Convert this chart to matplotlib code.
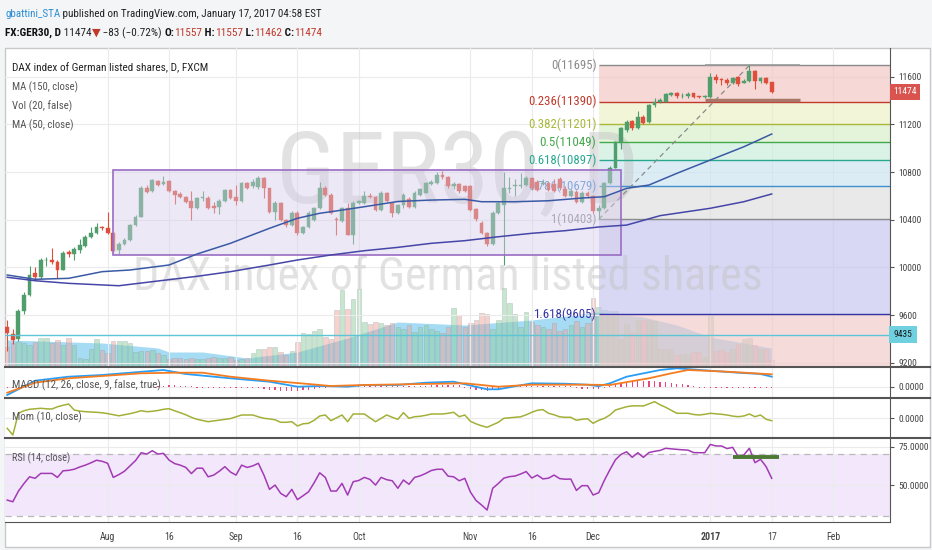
import numpy as np
import pandas as pd
import matplotlib
matplotlib.use('Agg')
from matplotlib import pyplot as plt
from matplotlib import font_manager
from matplotlib.patches import Rectangle
from matplotlib.lines import Line2D
import matplotlib.transforms as mtrans

# ---------------- data ----------------
opens = [9500, 9440, 9400, 9630, 9770, 9950, 9920, 10060, 10060, 10045,
         9980, 10130, 10110, 10150, 10180, 10255, 10290, 10340, 10330, 10290,
         10145, 10200, 10230, 10355, 10425, 10670, 10640, 10725, 10700, 10725,
         10640, 10615, 10590, 10560, 10500, 10580, 10585, 10515, 10510, 10560,
         10650, 10590, 10560, 10710, 10680, 10675, 10750, 10665, 10465, 10540,
         10400, 10355, 10460, 10290, 10340, 10400, 10500, 10670, 10610, 10410,
         10390, 10500, 10275, 10540, 10540, 10600, 10590, 10480, 10625, 10540,
         10460, 10525, 10575, 10510, 10610, 10625, 10700, 10710, 10775, 10760,
         10680, 10700, 10680, 10680, 10490, 10375, 10290, 10200, 10460, 10525,
         10660, 10680, 10680, 10690, 10750, 10720, 10700, 10710, 10700, 10740,
         10660, 10600, 10635, 10550, 10620, 10600, 10470, 10500, 10710, 10835,
         11055, 11155, 11230, 11170, 11265, 11220, 11365, 11390, 11390, 11450,
         11460, 11435, 11435, 11460, 11432, 11430, 11430, 11600, 11580, 11575,
         11545, 11600, 11550, 11560, 11650, 11560, 11590, 11557]
closes = [9450, 9390, 9630, 9770, 9940, 9920, 10060, 10065, 10045, 9980,
          10120, 10110, 10155, 10190, 10255, 10290, 10340, 10330, 10290, 10140,
          10200, 10230, 10355, 10425, 10670, 10635, 10730, 10690, 10720, 10640,
          10610, 10590, 10550, 10500, 10580, 10590, 10500, 10500, 10560, 10650,
          10585, 10560, 10710, 10670, 10720, 10750, 10665, 10465, 10540, 10400,
          10355, 10460, 10290, 10340, 10460, 10500, 10670, 10610, 10460, 10395,
          10500, 10275, 10540, 10555, 10600, 10590, 10480, 10625, 10555, 10460,
          10520, 10610, 10510, 10625, 10660, 10710, 10720, 10775, 10760, 10680,
          10700, 10640, 10640, 10485, 10405, 10290, 10200, 10460, 10540, 10670,
          10670, 10690, 10695, 10750, 10665, 10650, 10710, 10650, 10640, 10665,
          10600, 10640, 10550, 10620, 10600, 10470, 10500, 10710, 10835, 11055,
          11170, 11220, 11170, 11265, 11215, 11365, 11390, 11405, 11455, 11460,
          11435, 11440, 11455, 11430, 11430, 11435, 11600, 11570, 11570, 11545,
          11590, 11535, 11565, 11650, 11560, 11590, 11550, 11474]
highs = [9560, 9480, 9650, 9790, 10010, 10000, 10080, 10090, 10160, 10060,
         10135, 10150, 10170, 10240, 10270, 10340, 10370, 10350, 10465, 10300,
         10210, 10250, 10365, 10440, 10680, 10690, 10740, 10735, 10770, 10735,
         10650, 10630, 10600, 10640, 10590, 10640, 10600, 10550, 10570, 10660,
         10660, 10690, 10720, 10720, 10740, 10770, 10760, 10670, 10560, 10550,
         10410, 10470, 10470, 10350, 10470, 10510, 10720, 10680, 10620, 10420,
         10510, 10540, 10560, 10565, 10640, 10620, 10600, 10640, 10630, 10550,
         10530, 10620, 10590, 10640, 10670, 10720, 10730, 10800, 10810, 10770,
         10720, 10710, 10690, 10690, 10500, 10390, 10300, 10470, 10560, 10800,
         10760, 10740, 10790, 10770, 10760, 10730, 10740, 10720, 10740, 10760,
         10680, 10660, 10650, 10640, 10640, 10610, 10520, 10720, 10850, 11060,
         11180, 11240, 11240, 11310, 11280, 11370, 11420, 11420, 11465, 11470,
         11470, 11460, 11470, 11465, 11440, 11450, 11630, 11620, 11590, 11590,
         11600, 11610, 11580, 11695, 11660, 11600, 11600, 11557]
lows = [9300, 9360, 9380, 9610, 9760, 9900, 9900, 10010, 10030, 9910,
        9975, 10090, 10060, 10120, 10170, 10250, 10280, 10310, 10280, 10120,
        10110, 10190, 10220, 10345, 10420, 10620, 10630, 10680, 10690, 10630,
        10530, 10580, 10540, 10400, 10490, 10560, 10490, 10460, 10450, 10550,
        10575, 10520, 10550, 10660, 10670, 10660, 10580, 10460, 10400, 10390,
        10340, 10350, 10270, 10280, 10330, 10390, 10490, 10600, 10450, 10270,
        10380, 10270, 10200, 10530, 10530, 10580, 10470, 10475, 10550, 10420,
        10450, 10500, 10500, 10500, 10600, 10620, 10690, 10700, 10740, 10670,
        10660, 10620, 10630, 10470, 10390, 10280, 10180, 10190, 10450, 10020,
        10620, 10600, 10670, 10680, 10650, 10640, 10690, 10640, 10630, 10650,
        10590, 10590, 10540, 10540, 10580, 10460, 10403, 10490, 10700, 10830,
        10990, 11140, 11150, 11160, 11200, 11210, 11350, 11380, 11385, 11440,
        11425, 11420, 11420, 11420, 11420, 11420, 11425, 11550, 11530, 11530,
        11540, 11520, 11545, 11555, 11500, 11550, 11540, 11462]
volumes = [20, 24, 25, 24, 22, 25, 29, 29, 24, 27,
           22, 29, 22, 9, 8, 18, 28, 17, 14, 26,
           26, 26, 24, 15, 16, 16, 17, 14, 12, 8,
           9, 9, 8, 9, 8, 8, 9, 10, 9, 9,
           10, 7, 8, 9, 14, 18, 18, 20, 20, 15,
           12, 16, 25, 34, 33, 36, 38, 30, 28, 57,
           77, 58, 68, 78, 45, 43, 45, 44, 42, 44,
           40, 38, 42, 35, 40, 42, 38, 36, 34, 40,
           59, 52, 40, 44, 47, 54, 53, 38, 47, 79,
           64, 53, 40, 55, 45, 42, 40, 38, 44, 36,
           38, 42, 46, 40, 44, 69, 60, 57, 56, 56,
           28, 43, 35, 47, 47, 47, 46, 18, 18, 18,
           12, 13, 13, 15, 15, 10, 52, 16, 17, 15,
           18, 23, 28, 29, 22, 18, 18, 7]
rsi = [40.2, 39.1, 46, 51, 55.4, 54.4, 57.6, 57.6, 57.6, 55,
       59.3, 59.6, 60.3, 61.8, 63, 64.5, 66.2, 65.5, 64.2, 55,
       56.8, 59, 62.5, 66, 71.1, 70.2, 72.4, 70.2, 70.7, 66.3,
       64, 63, 61.5, 57.5, 61, 61, 55.4, 56.5, 59, 62,
       58.5, 56.5, 63, 61.5, 62.5, 64.2, 56.5, 47.2, 50, 44.6,
       42.4, 47.2, 40.5, 43, 45.6, 51.5, 58, 55, 46.1, 46.1,
       51.1, 43.5, 52.2, 53, 55, 53.7, 50, 55, 53.5, 52.8,
       47.9, 53.3, 50.5, 55, 56, 57.6, 59.5, 60.3, 60.3, 55.8,
       55.4, 52.8, 54.4, 45.5, 40, 37, 33.7, 47.9, 51, 54.5,
       55.5, 55.9, 57.2, 58.8, 54.6, 56.5, 54, 54.5, 56.5, 54.2,
       53.8, 53.9, 46.5, 49.6, 49.6, 43.5, 45, 53, 60, 66.5,
       70, 71.7, 68.1, 71.1, 68.1, 71.2, 72, 72.6, 74, 73.6,
       73.3, 73, 72.8, 71.2, 71.1, 71.1, 76.5, 75.5, 75.5, 73.8,
       74.6, 68.5, 69.6, 74, 64.6, 66.8, 62, 54.4]
mom = [-500, -835, 250, 380, 450, 475, 500, 475, 465, 575,
       650, 715, 415, 360, 330, 315, 300, 275, 235, 180,
       125, 175, 230, 300, 380, 330, 350, 390, 450, 480,
       375, 280, 175, 50, -50, -110, -170, -130, -85, -50,
       -15, 75, 165, 165, 165, 75, 0, -30, -75, -200,
       -200, -170, -385, -275, -250, -100, 115, 165, -120, 25,
       165, -170, 215, 215, 215, 25, -170, 0, 165, 50,
       -50, 280, 0, 80, 100, 150, 215, 215, 215, 250,
       300, 80, 165, -150, -275, -375, -450, -325, -200, 0,
       25, 50, 75, 175, 300, 400, 435, 250, 175, 75,
       50, 50, -100, -50, -25, -250, -100, 0, 165, 415,
       500, 580, 620, 625, 615, 725, 830, 675, 550, 400,
       250, 250, 250, 190, 165, 200, 250, 225, 200, 165,
       110, 80, 115, 215, 80, 165, -50, -120]
macd_hist = [-15, -15, -10, 5, 0, 0, 0, 0, 0, 0,
             0, 0, 0, 0, 0, 0, 0, 0, 0, 0,
             0, 0, 0, 0, 0, 0, 0, 10, 10, 15,
             15, 10, 10, 10, -10, -10, -10, -10, -10, -10,
             -10, -10, -10, -10, -10, -10, -20, -30, -35, -40,
             -40, -40, -40, -35, -30, -20, -10, -10, -5, -5,
             -5, 0, 0, 5, 5, 5, 5, 5, 5, 5,
             5, 5, 5, 5, 5, 5, 20, 20, 20, 20,
             15, 15, -10, -20, -30, -35, -40, -30, -20, 5,
             5, 5, 5, 5, 5, 5, 5, 5, 5, 5,
             5, 5, -15, -20, -20, -25, -20, -10, 20, 30,
             40, 50, 55, 60, 60, 60, 55, 50, 45, 40,
             30, 25, 20, 10, -10, -10, -10, -10, -10, -10,
             -10, -10, -10, -10, -10, -10, -10, -10]

# indicator lines read at a number of bars (bar index, value)
ma50_idx = [0, 5, 11, 17, 22, 29, 34, 40, 47, 52, 56, 58, 64, 70, 76, 82, 85, 91, 97, 103, 107, 111, 115, 120, 126, 132, 137]
ma50_val = [9936, 9900, 9908, 9964, 9978, 10020, 10112, 10202, 10328, 10412, 10454, 10467, 10509, 10553, 10565, 10571,
            10551, 10551, 10559, 10582, 10593, 10663, 10691, 10789, 10901, 11012, 11119]
ma150_idx = [0, 5, 11, 20, 26, 34, 40, 47, 52, 58, 64, 70, 76, 82, 88, 94, 100, 106, 111, 117, 126, 132, 137]
ma150_val = [9917, 9888, 9866, 9846, 9880, 9925, 9964, 10020, 10062, 10104, 10140, 10168, 10202, 10224, 10257, 10286,
             10308, 10339, 10355, 10434, 10496, 10551, 10616]
volma_idx = [0, 17, 27, 29, 35, 43, 52, 61, 70, 82, 94, 106, 114, 120, 126, 132, 137]
volma_val = [27, 24, 19, 15, 15, 9, 15, 29, 45, 42, 47, 55, 50, 42, 30, 24, 19]
macd_idx = [0, 5, 11, 17, 28, 32, 40, 47, 52, 56, 61, 64, 70, 75, 80, 86, 88, 94, 100, 104, 106, 108, 111, 117, 120, 126, 131, 135, 137]
macd_val = [-83, 60, 100, 117, 167, 127, 84, 50, 0, 7, 0, 17, 17, 40, 50, -26, -26, 34, 30, 20, 5, 34, 100, 167, 184, 160,
            140, 127, 100]
signal_idx = [0, 5, 11, 17, 24, 30, 35, 40, 47, 54, 58, 64, 74, 82, 88, 94, 104, 108, 115, 119, 122, 129, 137]
signal_val = [-60, 40, 84, 107, 134, 140, 140, 100, 60, 27, 7, 17, 27, 34, 0, 20, 20, 17, 84, 134, 167, 150, 124]

fib_levels = ['0', '0.236', '0.382', '0.5', '0.618', '0.786', '1', '1.618']
fib_prices = [11695, 11390, 11201, 11049, 10897, 10679, 10403, 9605]

price_ticks = [9200, 9600, 10000, 10400, 10800, 11200, 11600]
tick_dates = ['2016-08-01', '2016-08-16', '2016-09-01', '2016-09-16', '2016-10-04', '2016-11-01',
              '2016-11-16', '2016-12-01', '2017-01-02', '2017-01-17', '2017-02-01']
tick_labels = ['Aug', '16', 'Sep', '16', 'Oct', 'Nov', '16', 'Dec', '2017', '17', 'Feb']
holidays = ['2016-10-03', '2016-12-26']


# ---------------- fonts ----------------
def pick_narrow():
    flist = font_manager.fontManager.ttflist
    names = {f.name for f in flist}
    for cand in ['Liberation Sans Narrow', 'DejaVu Sans Condensed', 'Roboto Condensed',
                 'Noto Sans Condensed', 'Open Sans Condensed', 'Arial Narrow']:
        if cand in names:
            return cand, 'normal'
    for f in flist:
        if str(f.stretch) in ('condensed', 'semi-condensed', 'extra-condensed') and \
                f.name in ('Noto Sans', 'Open Sans', 'Roboto', 'DejaVu Sans', 'Lato', 'Inter'):
            return f.name, str(f.stretch)
    return 'Liberation Sans', 'normal'


NARROW, STRETCH = pick_narrow()
FAM = [NARROW, 'DejaVu Sans']
plt.rcParams['font.family'] = FAM
plt.rcParams['font.stretch'] = STRETCH

# ---------------- layout ----------------
W, H = 932, 550
fig = plt.figure(figsize=(W / 100, H / 100), dpi=100, facecolor='#f4f5f7')
renderer = fig.canvas.get_renderer()


def px_axes(x0, y0, x1, y1, **kw):
    return fig.add_axes([x0 / W, 1 - y1 / H, (x1 - x0) / W, (y1 - y0) / H], **kw)


def fit_width(t, target_px):
    w = t.get_window_extent(renderer).width
    t.set_fontsize(t.get_fontsize() * target_px / w)
    return t


# size that makes '11600' about 23 px wide, as on the price scale
_probe = fig.text(0, 0, '11600', fontsize=10)
TICK = 10 * 23.0 / _probe.get_window_extent(renderer).width
_probe.remove()

fig.add_artist(Rectangle((5 / W, 1 - 547 / H), 925 / W, 499 / H, transform=fig.transFigure,
                         facecolor='white', edgecolor='#c8c8c8', lw=1, zorder=-5))

all_days = pd.bdate_range('2016-07-06', '2017-02-28').drop(pd.to_datetime(holidays))
n = len(closes)
x = np.arange(n)
tick_pos = all_days.get_indexer(pd.to_datetime(tick_dates))
XMIN, XMAX = -0.4, 158.2

vax = px_axes(5, 48, 890, 367)
ax = px_axes(5, 48, 890, 367, sharex=vax)
amacd = px_axes(5, 367, 890, 398, sharex=vax)
amom = px_axes(5, 398, 890, 438, sharex=vax)
arsi = px_axes(5, 438, 890, 522, sharex=vax)
vax.set_zorder(0)
ax.set_zorder(1)
ax.patch.set_visible(False)
vax.patch.set_visible(False)
vax.axis('off')

for a in (ax, amacd, amom, arsi):
    for s in ['top', 'left', 'bottom']:
        a.spines[s].set_visible(False)
    a.spines['right'].set_color('#555555')
    a.yaxis.tick_right()
    a.tick_params(axis='y', length=3, color='#555555', labelsize=TICK, labelcolor='#444444', pad=3)
    a.tick_params(axis='x', length=0, labelbottom=False)
    a.set_xticks(tick_pos)
    a.grid(True, color='#ebebeb', lw=0.8)
    a.set_axisbelow(True)
ax.set_xlim(XMIN, XMAX)

# ---------------- main panel ----------------
ax.set_ylim(9164, 11841)
ax.set_yticks(price_ticks)

# fibonacci retracement
fib_colors = ['#8a8a8a', '#c0392b', '#a9b83a', '#43a94a', '#27a88f', '#3f8fcf', '#8a8a8a', '#3333a6']
fill_colors = ['#f2c4c0', '#eef0c4', '#d5efc8', '#c8eedb', '#c9e3f1', '#dedede', '#c4c4ef', '#f2c8c8']
f0 = 106
for k, p in enumerate(fib_prices):
    lower = fib_prices[k + 1] if k + 1 < len(fib_prices) else 9164
    ax.fill_between([f0, XMAX], lower, p, color=fill_colors[k], alpha=0.65, lw=0, zorder=1)
    ax.hlines(p, f0, XMAX, color=fib_colors[k], lw=1, zorder=2)
    ft = ax.text(f0 - 0.4, p, '%s(%d)' % (fib_levels[k], p), color=fib_colors[k], fontsize=10,
                 ha='right', va='center', zorder=3)
    fit_width(ft, 5.6 * len(ft.get_text()))
ax.plot([f0, 133], [fib_prices[6], fib_prices[0]], color='#8a8a8a', lw=0.9, ls=(0, (4, 3)), zorder=3)
ax.hlines(11405, 125, 142, color='#a9776a', lw=2.5, zorder=3)
ax.hlines(fib_prices[0], 125, 142, color='#9a9a9a', lw=1.2, zorder=3)

# watermark
wm1 = ax.text(0.512, 0.514, 'GER30, D', transform=ax.transAxes, fontsize=70, color='#c0c0c0', alpha=0.45,
              ha='center', va='baseline', zorder=1.8)
fit_width(wm1, 364)
wm2 = ax.text(0.1446, 0.241, 'DAX index of German listed shares', transform=ax.transAxes, fontsize=35,
              color='#c0c0c0', alpha=0.45, ha='left', va='baseline', zorder=1.8)
fit_width(wm2, 629)

# candles
o = np.array(opens, float)
c = np.array(closes, float)
up = c >= o
ccol = np.where(up, '#4f9e6c', '#df4e3c')
ax.vlines(x, lows, highs, colors=ccol, lw=0.8, zorder=4)
ax.bar(x, np.maximum(np.abs(c - o), 6), 0.68, bottom=np.minimum(o, c), color=ccol, edgecolor=ccol,
       lw=0.3, zorder=4)

# rectangle drawing
ax.add_patch(Rectangle((19, 10100), 91, 717, facecolor='#d6cdea', alpha=0.45, edgecolor='none', zorder=5))
ax.add_patch(Rectangle((19, 10100), 91, 717, facecolor='none', edgecolor='#9a6cc4', lw=1.2, zorder=5))

# moving averages
ax.plot(ma50_idx, ma50_val, color='#3b5aa6', lw=1.1, zorder=6)
ax.plot(ma150_idx, ma150_val, color='#4646a8', lw=1.1, zorder=6)
ax.axhline(9435, color='#5cc6d6', lw=1, zorder=6)

blend = mtrans.blended_transform_factory(ax.transAxes, ax.transData)
ax.text(1.004, 11474, '11474', transform=blend, color='white', fontsize=TICK, ha='left', va='center',
        clip_on=False, zorder=10, bbox=dict(boxstyle='square,pad=0.35', fc='#d9534f', ec='none'))
ax.text(1.004, 9435, '9435', transform=blend, color='#1a1a1a', fontsize=TICK, ha='left', va='center',
        clip_on=False, zorder=10, bbox=dict(boxstyle='square,pad=0.45', fc='#6fd0df', ec='none'))

# volume
vax.set_ylim(0, 319)
vcol = np.where(up, '#8fd19e', '#f2a49c')
vax.fill_between(volma_idx, 0, volma_val, color='#5bbfea', alpha=0.55, lw=0)
vax.bar(x, volumes, 0.8, color=vcol, alpha=0.5, edgecolor='#8a9aa0', lw=0.4)

# ---------------- MACD ----------------
amacd.set_ylim(-113, 197)
amacd.set_yticks([0])
amacd.set_yticklabels(['0.0000'])
amacd.bar(x, macd_hist, 0.22, color='#e8457a', zorder=2)
amacd.plot(macd_idx, macd_val, color='#2a9df4', lw=1.3, zorder=3)
amacd.plot(signal_idx, signal_val, color='#f57c20', lw=1.3, zorder=3)

# ---------------- Momentum ----------------
amom.set_ylim(-985, 1015)
amom.set_yticks([0])
amom.set_yticklabels(['0.0000'])
amom.plot(x, mom, color='#a3b038', lw=1.1)

# ---------------- RSI ----------------
arsi.set_ylim(25.9, 80.7)
arsi.set_yticks([50, 75])
arsi.set_yticklabels(['50.0000', '75.0000'])
arsi.axhspan(30, 70, color='#efe2fb', alpha=0.8, lw=0, zorder=0.5)
arsi.axhline(70, color='#b9b9b9', lw=0.9, ls=(0, (5, 4)), zorder=1)
arsi.axhline(30, color='#b9b9b9', lw=0.9, ls=(0, (5, 4)), zorder=1)
arsi.plot(x, rsi, color='#a23ab4', lw=1.1, zorder=3)
arsi.hlines(68.5, 130, 138.3, color='#4d7a33', lw=2.8, zorder=4)
arsi.spines['bottom'].set_visible(True)
arsi.spines['bottom'].set_color('#555555')
arsi.tick_params(axis='x', labelbottom=True, labelsize=TICK * 1.05, labelcolor='#444444', pad=7)
arsi.set_xticklabels(tick_labels)
for lab in arsi.get_xticklabels():
    if lab.get_text() == '2017':
        lab.set_fontweight('bold')

# panel separators
for yy in (367, 398, 438):
    fig.add_artist(Line2D([5 / W, 930 / W], [1 - yy / H] * 2, color='#555555', lw=1.5))


# ---------------- texts ----------------
def text_line(x_px, y_px, pieces, size, target_px):
    tmp = [fig.text(0, 0, s, fontweight=wt, fontsize=size) for s, col, wt in pieces]
    total = sum(t.get_window_extent(renderer).width for t in tmp)
    for t in tmp:
        t.remove()
    size = size * target_px / total
    xx = x_px
    for s, col, wt in pieces:
        t = fig.text(xx / W, 1 - y_px / H, s, color=col, fontweight=wt, fontsize=size,
                     ha='left', va='center')
        xx += t.get_window_extent(renderer).width


RED = '#c0392b'
text_line(5, 14, [('gbattini_STA', '#2a8dd4', 'normal'),
                  (' published on TradingView.com, January 17, 2017 04:58 EST', '#222222', 'normal')], 9, 317)
text_line(5, 33, [('FX:GER30, D', '#111111', 'bold'), (' 11474', '#222222', 'normal'),
                  ('\u25bc', RED, 'normal'), (' \u221283 (\u22120.72%) ', '#222222', 'normal'),
                  ('O:', '#111111', 'bold'), ('11557', RED, 'normal'),
                  (' H:', '#111111', 'bold'), ('11557', RED, 'normal'),
                  (' L:', '#111111', 'bold'), ('11462', RED, 'normal'),
                  (' C:', '#111111', 'bold'), ('11474', RED, 'normal')], 8.5, 313)

legend_items = [('DAX index of German listed shares, D, FXCM', 68, '#222222', 197),
                ('MA (150, close)', 87, '#555555', 66),
                ('Vol (20, false)', 106, '#555555', 60),
                ('MA (50, close)', 125, '#555555', 61),
                ('MACD (12, 26, close, 9, false, true)', 385, '#555555', 149),
                ('Mom (10, close)', 417, '#555555', 69),
                ('RSI (14, close)', 458, '#555555', 58)]
for s, yy, col, wpx in legend_items:
    t = fig.text(12 / W, 1 - yy / H, s, color=col, fontsize=8.5, ha='left', va='center')
    fit_width(t, wpx)

fig.savefig('out.png', dpi=100, facecolor=fig.get_facecolor())
